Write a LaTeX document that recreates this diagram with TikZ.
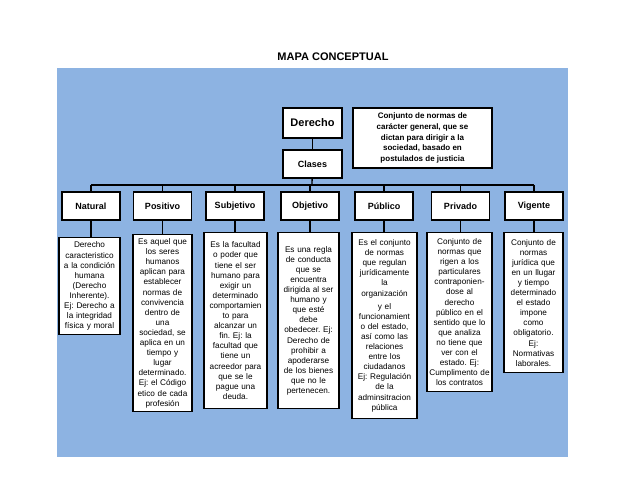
\documentclass[tikz,border=0pt]{standalone}
\usepackage{fontspec}
\setmainfont{Liberation Sans}
\definecolor{bgblue}{RGB}{141,179,226}
\frenchspacing
\begin{document}
\begin{tikzpicture}[x=1pt,y=-1pt,
 box/.style={draw=black,line width=1.4pt,fill=white,inner sep=1pt,align=center},
 cat/.style={box,minimum width=58pt,minimum height=28pt,font=\bfseries\fontsize{9}{10}\selectfont},
 desc/.style={box,anchor=north,text width=#1,font=\fontsize{8.2}{10.1}\selectfont},
 link/.style={line width=1.3pt,draw=black}]
\useasboundingbox (0,0) rectangle (638,493);
\fill[bgblue] (57,68) rectangle (568,457);
\node[font=\bfseries\fontsize{11}{13}\selectfont] (title) at (333,57) {MAPA CONCEPTUAL};
\node[box,minimum width=59pt,minimum height=30pt,font=\bfseries\fontsize{11}{13}\selectfont] (derecho) at (312.5,123) {Derecho};
\node[box,minimum width=59pt,minimum height=28pt,font=\bfseries\fontsize{9}{10}\selectfont] (clases) at (312.5,164) {Clases};
\node[box,minimum width=139pt,minimum height=60pt,font=\bfseries\fontsize{8}{10.9}\selectfont] (def) at (422.5,138) {Conjunto de normas de\\carácter general, que se\\dictan para dirigir a la\\sociedad, basado en\\postulados de justicia};
\draw[link] (derecho) -- (clases);
\coordinate (bus) at (312,185);
\node[cat] (natural) at (91,206) {Natural};
\node[cat] (positivo) at (162.5,206) {Positivo};
\node[cat] (subjetivo) at (235,206) {Subjetivo};
\node[cat] (objetivo) at (310,206) {Objetivo};
\node[cat] (publico) at (384,206) {Público};
\node[cat] (privado) at (460.5,206) {Privado};
\node[cat] (vigente) at (534,206) {Vigente};
\draw[link] (clases) -- (bus);
\draw[link] (natural.north |- bus) -- (vigente.north |- bus);
\foreach \n in {natural,positivo,subjetivo,objetivo,publico,privado,vigente}
  \draw[link] (\n.north) -- (\n.north |- bus);
\node[desc=59pt,minimum height=97pt] (dnatural) at (89.5,237) {Derecho\\caracteristico\\a la condición\\humana\\(Derecho\\Inherente).\\Ej: Derecho a\\la integridad\\física y moral};
\node[desc=57pt,minimum height=177pt] (dpositivo) at (162.5,234) {Es aquel que\\los seres\\humanos\\aplican para\\establecer\\normas de\\convivencia\\dentro de\\una\\sociedad, se\\aplica en un\\tiempo y\\lugar\\determinado.\\Ej: el Código\\etico de cada\\profesión};
\node[desc=61pt,minimum height=176pt] (dsubjetivo) at (235.5,232) {Es la facultad\\o poder que\\tiene el ser\\humano para\\exigir un\\determinado\\comportamien\\to para\\alcanzar un\\fin. Ej: la\\facultad que\\tiene un\\acreedor para\\que se le\\pague una\\deuda.};
\node[desc=59pt,minimum height=176pt] (dobjetivo) at (308.5,232) {Es una regla\\de conducta\\que se\\encuentra\\dirigida al ser\\humano y\\que esté\\debe\\obedecer. Ej:\\Derecho de\\prohibir a\\apoderarse\\de los bienes\\que no le\\pertenecen.};
\node[desc=63pt,minimum height=186pt] (dpublico) at (384.5,232) {Es el conjunto\\de normas\\que regulan\\jurídicamente\\la\\organización\\[3pt]y el\\funcionamient\\o del estado,\\así como las\\relaciones\\entre los\\ciudadanos\\Ej: Regulación\\de la\\adminsitracion\\pública};
\node[desc=63pt,minimum height=159pt] (dprivado) at (459.5,232) {Conjunto de\\normas que\\rigen a los\\particulares\\contraponien-\\dose al\\derecho\\público en el\\sentido que lo\\que analiza\\no tiene que\\ver con el\\estado. Ej:\\Cumplimento de\\los contratos};
\node[desc=57pt,minimum height=140pt] (dvigente) at (533.5,232) {Conjunto de\\normas\\jurídica que\\en un llugar\\y tiempo\\determinado\\el estado\\impone\\como\\obligatorio.\\Ej:\\Normativas\\laborales.};
\foreach \n in {natural,positivo,subjetivo,objetivo,publico,privado,vigente}
  \draw[link] (\n.south) -- (\n.south |- d\n.north);
\end{tikzpicture}
\end{document}
